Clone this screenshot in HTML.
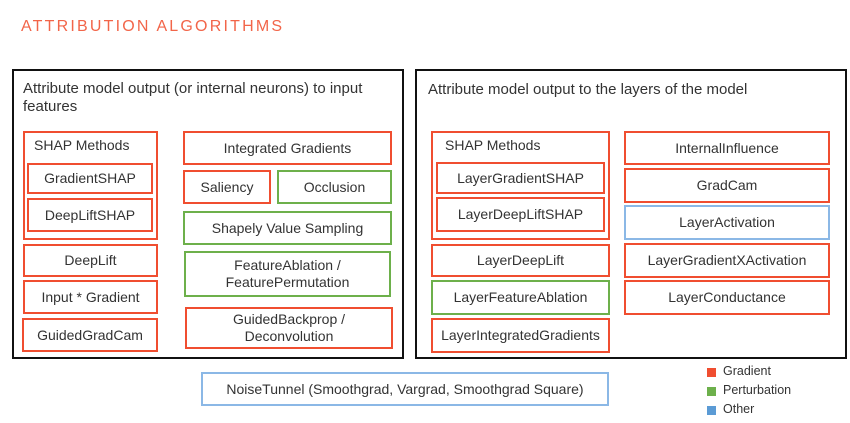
<!DOCTYPE html>
<html><head><meta charset="utf-8"><style>
body{margin:0;width:850px;height:423px;background:#fff;position:relative;overflow:hidden;font-family:"Liberation Sans",sans-serif;color:#333;}
.b{position:absolute;box-sizing:border-box;border:2px solid #f04e30;display:flex;align-items:center;justify-content:center;text-align:center;font-size:14px;line-height:17px;}
.g{border-color:#6db04b;}
.u{border-color:#8bb8e6;}
.p{position:absolute;box-sizing:border-box;border:2px solid #111;}
.t{position:absolute;font-size:15px;line-height:18px;}
.sq{position:absolute;width:9px;height:9px;left:707px;}
.lg{position:absolute;left:723px;font-size:12.5px;}
</style></head><body>
<div class="t" style="left:21px;top:18px;font-size:16px;letter-spacing:2.2px;color:#f26549;">ATTRIBUTION ALGORITHMS</div>

<div class="p" style="left:12px;top:69px;width:392px;height:290px;"></div>
<div class="t" style="left:23px;top:80px;">Attribute model output (or internal neurons) to input<br>features</div>
<div class="b" style="left:23px;top:131px;width:135px;height:109px;align-items:flex-start;justify-content:flex-start;padding:4px 0 0 9px;">SHAP Methods</div>
<div class="b" style="left:27px;top:163px;width:126px;height:31px;">GradientSHAP</div>
<div class="b" style="left:27px;top:198px;width:126px;height:34px;">DeepLiftSHAP</div>
<div class="b" style="left:23px;top:244px;width:135px;height:33px;">DeepLift</div>
<div class="b" style="left:23px;top:280px;width:135px;height:34px;">Input * Gradient</div>
<div class="b" style="left:22px;top:318px;width:136px;height:34px;">GuidedGradCam</div>
<div class="b" style="left:183px;top:131px;width:209px;height:34px;">Integrated Gradients</div>
<div class="b" style="left:183px;top:170px;width:88px;height:34px;">Saliency</div>
<div class="b g" style="left:277px;top:170px;width:115px;height:34px;">Occlusion</div>
<div class="b g" style="left:183px;top:211px;width:209px;height:34px;">Shapely Value Sampling</div>
<div class="b g" style="left:184px;top:251px;width:207px;height:46px;">FeatureAblation /<br>FeaturePermutation</div>
<div class="b" style="left:185px;top:307px;width:208px;height:42px;">GuidedBackprop /<br>Deconvolution</div>

<div class="p" style="left:415px;top:69px;width:432px;height:290px;"></div>
<div class="t" style="left:428px;top:81px;">Attribute model output to the layers of the model</div>
<div class="b" style="left:431px;top:131px;width:179px;height:109px;align-items:flex-start;justify-content:flex-start;padding:4px 0 0 12px;">SHAP Methods</div>
<div class="b" style="left:436px;top:162px;width:169px;height:32px;">LayerGradientSHAP</div>
<div class="b" style="left:436px;top:197px;width:169px;height:35px;">LayerDeepLiftSHAP</div>
<div class="b" style="left:431px;top:244px;width:179px;height:33px;">LayerDeepLift</div>
<div class="b g" style="left:431px;top:280px;width:179px;height:35px;">LayerFeatureAblation</div>
<div class="b" style="left:431px;top:318px;width:179px;height:35px;">LayerIntegratedGradients</div>
<div class="b" style="left:624px;top:131px;width:206px;height:34px;">InternalInfluence</div>
<div class="b" style="left:624px;top:168px;width:206px;height:35px;">GradCam</div>
<div class="b u" style="left:624px;top:205px;width:206px;height:35px;">LayerActivation</div>
<div class="b" style="left:624px;top:243px;width:206px;height:35px;">LayerGradientXActivation</div>
<div class="b" style="left:624px;top:280px;width:206px;height:35px;">LayerConductance</div>

<div class="b u" style="left:201px;top:372px;width:408px;height:34px;">NoiseTunnel (Smoothgrad, Vargrad, Smoothgrad Square)</div>

<div class="sq" style="top:368px;background:#f04e30;"></div><div class="lg" style="top:364px;">Gradient</div>
<div class="sq" style="top:387px;background:#6db04b;"></div><div class="lg" style="top:383px;">Perturbation</div>
<div class="sq" style="top:406px;background:#5b9bd5;"></div><div class="lg" style="top:402px;">Other</div>
</body></html>
